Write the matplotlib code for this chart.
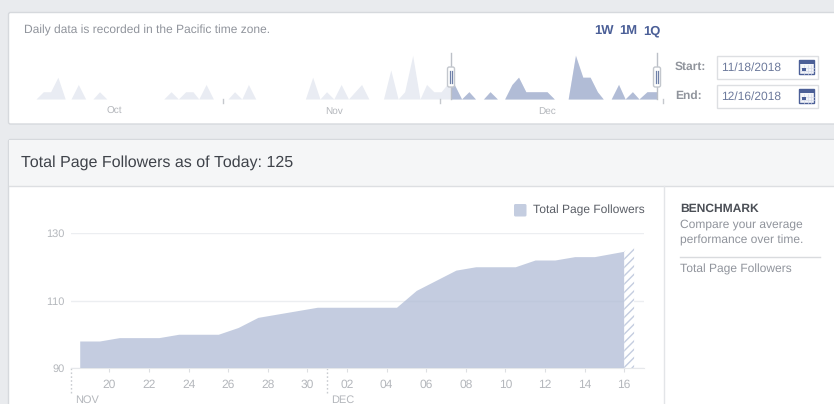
import matplotlib
matplotlib.use("Agg")
import matplotlib.pyplot as plt
import numpy as np
from matplotlib.patches import Rectangle, FancyBboxPatch

plt.rcParams['font.family'] = ['Liberation Sans', 'DejaVu Sans']
plt.rcParams['hatch.linewidth'] = 1.0
plt.rcParams['text.hinting'] = 'no_hinting'
plt.rcParams['text.hinting_factor'] = 1

# ---- data ----
follower_days = [18.5, 19.5, 20.5, 21.5, 22.5, 23.5, 24.5, 25.5, 26.5, 27.5, 28.5, 29.5, 30.5,
                 31.5, 32.5, 33.5, 34.5, 35.5, 36.5, 37.5, 38.5, 39.5, 40.5, 41.5, 42.5, 43.5, 44.5, 46.0]
followers = [98, 98, 99, 99, 99, 100, 100, 100, 102, 105, 106, 107, 108,
             108, 108, 108, 108, 113, 116, 119, 120, 120, 120, 122, 122, 123, 123, 124.6]
partial_days = [46.0, 46.5]
partial_values = [124.6, 125.6]
tick_days = [20, 22, 24, 26, 28, 30, 32, 34, 36, 38, 40, 42, 44, 46]
tick_labels = ['20', '22', '24', '26', '28', '30', '02', '04', '06', '08', '10', '12', '14', '16']
y_ticks = [90, 110, 130]
month_days = [18.06, 31.0]
month_labels = ['NOV', 'DEC']

overview_days = [0, 1.0, 2.0, 3.0, 4.0, 4.8, 5.8, 6.8, 7.8, 8.7, 9.7, 17.5, 18.5, 19.5, 20.5, 21.5, 22.3,
                 23.3, 24.3, 26.3, 27.2, 28.2, 29.1, 30.1, 36.9, 37.9, 38.9, 39.8, 40.8, 41.8, 42.8, 44.6,
                 45.6, 47.6, 48.6, 49.6, 50.5, 51.6, 52.6, 53.5, 54.5, 55.5, 56.3, 57.3, 58.3, 59.3, 60.2,
                 61.3, 62.2, 63.2, 64.2, 65.2, 66.1, 67.1, 68.1, 69.1, 70.0, 71.0, 72.9, 73.9, 74.9, 75.9,
                 76.9, 77.7, 78.8, 79.8, 80.7, 81.7, 82.6, 83.7, 84.6, 85.1]
overview_counts = [0, 1, 1, 3, 0, 0, 2, 0, 0, 1, 0, 0, 1, 0, 1, 1, 0,
                   2, 0, 0, 1, 0, 2, 0, 0, 3, 0, 1, 0, 2, 0, 2,
                   0, 0, 4, 0, 1, 6, 0, 2, 1, 1, 2, 2, 0, 1, 0,
                   0, 1, 0, 0, 2, 3, 1, 1, 1, 1, 0, 0, 6, 3, 3,
                   1, 0, 0, 2, 0, 1, 0, 1, 1, 1]
overview_range = [56.85, 85.07]
overview_month_ticks = [25.6, 55.3, 85.9]
overview_month_pos = [10.7, 40.8, 70.0]
overview_month_labels = ['Oct', 'Nov', 'Dec']

W, H = 834, 404
BG = '#e9ebee'
BORDER = '#d6d9dd'
FILL = '#c4cde0'
FILL_BASE = '#b0bcd6'
SPARK_DARK = '#b1bcd6'
SPARK_LIGHT = '#e9ecf3'
GREY = '#90949c'
TICKGREY = '#b4b7bc'
BLUE = '#4b5f97'
DARK = '#3f434a'

fig = plt.figure(figsize=(W / 100, H / 100), dpi=100, facecolor=BG)


def px_axes(x0, y0, x1, y1, **kw):
    return fig.add_axes([x0 / W, 1 - y1 / H, (x1 - x0) / W, (y1 - y0) / H], **kw)


# ---- page chrome, in pixel coordinates ----
bg = fig.add_axes([0, 0, 1, 1], zorder=0)
bg.set_xlim(0, W)
bg.set_ylim(H, 0)
bg.axis('off')

bg.add_patch(FancyBboxPatch((8.5, 12.5), 840, 111.5, boxstyle='round,pad=0,rounding_size=2',
                            fc='white', ec=BORDER, lw=1))
bg.add_patch(FancyBboxPatch((8.5, 139.5), 840, 290, boxstyle='round,pad=0,rounding_size=2',
                            fc='white', ec=BORDER, lw=1))
bg.add_patch(Rectangle((9, 140), 830, 45.5, fc='#f5f6f7', ec='none'))
bg.plot([9, 834], [185.5, 185.5], color='#dddfe2', lw=1)
bg.plot([664.5, 664.5], [186, 404], color='#e3e5e8', lw=1)

bg.text(24, 30.5, 'Daily data is recorded in the Pacific time zone.', fontsize=8.7, color=GREY, va='center')
for x, s in zip([604, 628, 651.5], ['1W', '1M', '1Q']):
    bg.text(x, 31, s, fontsize=9.3, color=BLUE, weight='bold', va='center', ha='center')

bg.text(675, 66.5, 'Start:', fontsize=8.6, color=GREY, weight='bold', va='center')
bg.text(675, 95.5, 'End:', fontsize=8.6, color=GREY, weight='bold', va='center')
for y, s in zip([55.5, 84.5], ['11/18/2018', '12/16/2018']):
    bg.add_patch(Rectangle((717.5, y), 101, 23, fc='white', ec='#dddfe2', lw=1))
    bg.text(721.5, y + 11.8, s, fontsize=8.85, color='#6d7a9c', va='center')
    # calendar icon
    bg.add_patch(Rectangle((799.5, y + 4.5), 15, 14, fc='#f3f5f9', ec='#4b5f97', lw=1))
    bg.add_patch(Rectangle((799.5, y + 4.5), 15, 4, fc='#4b5f97', ec='none'))
    for gx in (804, 808, 811.5):
        bg.plot([gx, gx], [y + 9, y + 18], color='#d5daea', lw=0.5)
    for gy in (y + 12, y + 15):
        bg.plot([800, 814], [gy, gy], color='#d5daea', lw=0.5)
    bg.add_patch(Rectangle((802.5, y + 12), 3.5, 3.5, fc='#4b5f97', ec='none', zorder=5))

bg.text(21, 162.5, 'Total Page Followers as of Today: 125', fontsize=11.4, color=DARK, va='center')

bg.add_patch(FancyBboxPatch((514, 204), 12.5, 12.5, boxstyle='round,pad=0,rounding_size=1.5',
                            fc=FILL, ec='none'))
bg.text(533, 210, 'Total Page Followers', fontsize=8.6, color='#5a5e66', va='center')

bg.text(680, 209, 'BENCHMARK', fontsize=8.4, color='#4b4f56', weight='bold', va='center')
bg.text(680, 224, 'Compare your average', fontsize=8.85, color=GREY, va='center')
bg.text(680, 240, 'performance over time.', fontsize=8.85, color=GREY, va='center')
bg.plot([680, 820], [256.5, 256.5], color='#d9dbde', lw=1)
bg.text(680, 269, 'Total Page Followers', fontsize=8.85, color=GREY, va='center')

# ---- main chart ----
ax = px_axes(71, 233, 644, 368, zorder=2)
ax.patch.set_alpha(0)
ax.set_xlim(18.06, 47.0)
ax.set_ylim(90, 130)
for s in ax.spines.values():
    s.set_visible(False)
ax.set_yticks(y_ticks)
ax.set_yticklabels([str(v) for v in y_ticks], fontsize=7.9, color=TICKGREY)
ax.tick_params(axis='y', length=0, pad=4.5)
ax.set_xticks(tick_days)
ax.set_xticklabels(tick_labels, fontsize=8.5, color=TICKGREY)
ax.tick_params(axis='x', length=3, width=0.8, color='#dddfe2', pad=5)
ax.grid(axis='y', color='#eceef1', lw=1, zorder=1)
ax.set_axisbelow(True)
ax.spines['bottom'].set_visible(True)
ax.spines['bottom'].set_color('#e6e8eb')
ax.fill_between(follower_days, followers, 90, color=FILL_BASE, lw=0, zorder=2, alpha=0.75)
ax.fill_between(partial_days, partial_values, 90, facecolor='white', edgecolor=FILL,
                hatch='////', lw=0, zorder=2)
for d, s in zip(month_days, month_labels):
    ax.plot([d, d], [90, 82], color='#c9ccd1', lw=1, ls=(0, (1.2, 1.6)), clip_on=False)
    ax.annotate(s, (d, 90), xytext=(4, -35), textcoords='offset pixels', fontsize=7.9,
                color=TICKGREY, va='baseline', annotation_clip=False)

# ---- overview sparkline ----
PX = 7.3
ov = px_axes(36 - 16, 99 - 6 * 7.27 - 4, 36 + 90 * PX, 99, zorder=2)
ov.patch.set_alpha(0)
ov.set_xlim(-16 / PX, 90)
ov.set_ylim(0, (6 * 7.27 + 4) / 7.27)
ov.axis('off')
ov.fill_between(overview_days, overview_counts, 0, color=SPARK_LIGHT, lw=0, zorder=2)
dark = ov.fill_between(overview_days, overview_counts, 0, color=SPARK_DARK, lw=0, zorder=3)
clip = Rectangle((overview_range[0], 0), overview_range[1] - overview_range[0], 8, transform=ov.transData)
dark.set_clip_path(clip)
for d in overview_month_ticks:
    ov.plot([d, d], [0, -0.55], color='#c5c8cd', lw=1, clip_on=False, zorder=2)
for d, s in zip(overview_month_pos, overview_month_labels):
    ov.annotate(s, (d, 0), xytext=(0, -15), textcoords='offset pixels', fontsize=7.3,
                color=TICKGREY, ha='center', va='baseline', annotation_clip=False)
for d in overview_range:
    ov.plot([d, d], [0, 6.3], color='#bcc0c7', lw=1, clip_on=False, zorder=4)
    ov.add_patch(FancyBboxPatch((d - 0.48, 1.65), 0.96, 2.75,
                                boxstyle='round,pad=0,rounding_size=0.25', mutation_aspect=1,
                                fc='white', ec='#c3c7cd', lw=1, zorder=5, clip_on=False))
    for off in (-0.1, 0.15):
        ov.plot([d + off, d + off], [2.2, 3.9], color='#6f80a8', lw=0.9, zorder=6, clip_on=False)

fig.savefig('out.png', dpi=100, facecolor=BG)
